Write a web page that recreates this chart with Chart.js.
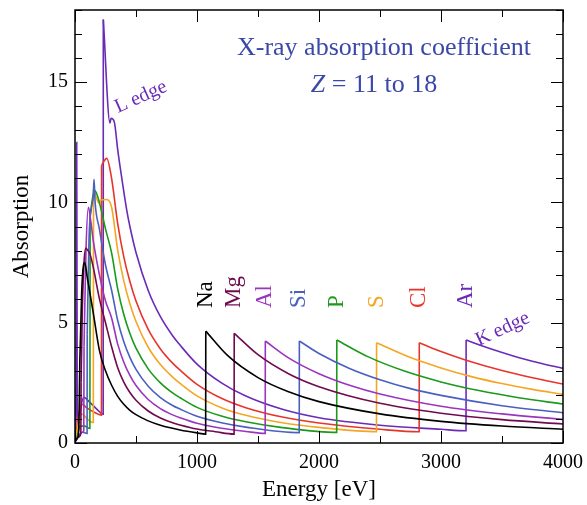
<!DOCTYPE html>
<html>
<head>
<meta charset="utf-8">
<script src="https://cdn.jsdelivr.net/npm/chart.js@4.4.0/dist/chart.umd.min.js"></script>
<style>
    html, body { margin: 0; padding: 0; background: #ffffff; }
</style>
</head>
<body>
<canvas id="absorcion" width="587" height="505"></canvas>
<script>
// energias [eV] y valores de absorcion, Z = 11 a 18
var elementos = ["Na", "Mg", "Al", "Si", "P", "S", "Cl", "Ar"];
var bordeK = [1072, 1305, 1560, 1839, 2146, 2472, 2822, 3206];

var naE = [0, 20, 30, 40, 55, 70, 80, 100, 150, 200, 250, 300, 350, 400, 450, 500, 600, 700, 800, 861, 1000, 1071, 1072, 1250, 1500, 1750, 2000, 2500, 3000, 3500, 4000];
var naV = [0.05, 0.2, 0.5, 3.5, 6.3, 7.4, 7.5, 6.9, 5.4, 3.85, 3.0, 2.4, 1.94, 1.61, 1.36, 1.18, 0.92, 0.74, 0.61, 0.54, 0.42, 0.37, 4.65, 3.64, 2.72, 2.13, 1.72, 1.21, 0.9, 0.705, 0.57];

var mgE = [0, 30, 48, 50, 60, 75, 90, 105, 120, 150, 200, 250, 300, 350, 400, 450, 500, 600, 700, 800, 861, 1000, 1150, 1304, 1305, 1500, 1750, 2000, 2500, 3000, 3500, 4000];
var mgV = [0.1, 0.25, 0.4, 2.5, 5.5, 7.6, 8.1, 8.0, 7.9, 7.3, 6.0, 5.0, 4.0, 3.13, 2.53, 2.1, 1.78, 1.33, 1.04, 0.84, 0.75, 0.58, 0.47, 0.37, 4.56, 3.67, 2.88, 2.34, 1.65, 1.24, 0.97, 0.79];

var alE = [0, 30, 60, 72, 74, 90, 110, 130, 150, 200, 250, 300, 350, 400, 450, 500, 600, 700, 800, 861, 1000, 1200, 1400, 1559, 1560, 1750, 2000, 2250, 2500, 3000, 3500, 4000];
var alV = [0.1, 0.3, 0.45, 0.5, 4.0, 8.0, 9.8, 9.2, 8.4, 7.0, 5.9, 5.2, 4.11, 3.36, 2.81, 2.39, 1.81, 1.43, 1.17, 1.05, 0.82, 0.61, 0.48, 0.4, 4.24, 3.54, 2.88, 2.4, 2.04, 1.53, 1.21, 0.98];

var siE = [0, 30, 60, 99, 100, 115, 135, 150, 156, 165, 200, 250, 300, 350, 400, 450, 500, 600, 700, 800, 861, 1000, 1200, 1400, 1838, 1839, 2000, 2250, 2500, 2750, 3000, 3500, 4000];
var siV = [0.05, 0.3, 0.45, 0.4, 4.5, 8.5, 9.8, 10.3, 10.96, 10.0, 8.9, 7.4, 6.35, 5.09, 4.21, 3.56, 3.06, 2.36, 1.89, 1.56, 1.41, 1.11, 0.84, 0.66, 0.43, 4.24, 3.72, 3.1, 2.63, 2.26, 1.98, 1.55, 1.26];

var pE = [0, 20, 40, 80, 122, 124, 160, 175, 200, 250, 300, 350, 400, 450, 500, 600, 700, 800, 861, 1000, 1200, 1400, 1700, 2145, 2146, 2400, 2700, 3000, 3300, 3650, 4000];
var pV = [0.05, 0.3, 0.7, 0.7, 0.6, 9.5, 10.5, 10.4, 10.0, 8.9, 7.9, 6.41, 5.34, 4.55, 3.94, 3.08, 2.5, 2.08, 1.88, 1.48, 1.12, 0.88, 0.64, 0.44, 4.28, 3.59, 2.99, 2.54, 2.19, 1.87, 1.62];

var sE = [0, 20, 40, 60, 100, 150, 152, 200, 210, 260, 300, 350, 400, 450, 500, 600, 700, 800, 861, 1000, 1200, 1400, 1700, 2000, 2471, 2472, 2750, 3000, 3250, 3500, 3750, 4000];
var sV = [0.1, 0.6, 1.1, 1.2, 1.0, 0.85, 10.54, 9.96, 10.1, 10.12, 9.8, 8.02, 6.74, 5.79, 5.05, 3.98, 3.26, 2.74, 2.48, 1.96, 1.47, 1.15, 0.84, 0.65, 0.47, 4.17, 3.55, 3.12, 2.76, 2.47, 2.23, 2.02];

var clE = [0, 20, 40, 60, 100, 150, 217, 218, 260, 300, 350, 400, 450, 500, 600, 700, 800, 861, 1000, 1200, 1400, 1700, 2000, 2500, 2821, 2822, 3000, 3200, 3500, 3750, 4000];
var clV = [0.1, 0.8, 1.4, 1.6, 1.45, 1.3, 1.16, 11.55, 11.83, 11.0, 9.12, 7.74, 6.71, 5.9, 4.72, 3.91, 3.32, 3.03, 2.44, 1.86, 1.47, 1.08, 0.83, 0.57, 0.47, 4.17, 3.8, 3.45, 3.01, 2.71, 2.45];

var arE = [0, 10, 14, 18, 25, 40, 70, 120, 180, 231, 232, 287, 295, 322, 350, 375, 424, 450, 500, 600, 700, 800, 861, 1000, 1200, 1400, 1700, 2000, 2500, 3000, 3205, 3206, 3400, 3600, 3800, 4000];
var arV = [0.2, 3, 12.5, 2.0, 0.6, 1.2, 1.9, 1.7, 1.4, 1.2, 17.6, 13.3, 13.5, 13.35, 12.2, 11.3, 9.68, 9.0, 7.92, 6.34, 5.25, 4.46, 4.07, 3.28, 2.5, 1.95, 1.4, 1.05, 0.74, 0.57, 0.51, 4.28, 3.93, 3.61, 3.34, 3.1];

var energias = [naE, mgE, alE, siE, pE, sE, clE, arE];
var valores = [naV, mgV, alV, siV, pV, sV, clV, arV];
var colores = ["#000000", "#700a4e", "#9b35c0", "#4a5fc0", "#1a9a1a", "#f5a623", "#e8342a", "#6a2bb8"];

var serif = "'Liberation Serif', 'Times New Roman', serif";
var azul = "#3a48a8";
var violeta = "#6a2bb8";

// cada curva se corta en los bordes (saltos verticales) para que las esquinas queden vivas
var datasets = [];
function tramoNuevo(el, color, pts) {
    return {
        label: el,
        data: pts,
        borderColor: color,
        borderWidth: 1.6,
        pointRadius: 0,
        cubicInterpolationMode: "monotone",
        fill: false
    };
}
elementos.forEach(function (el, i) {
    var pts = energias[i].map(function (e, j) { return { x: e, y: valores[i][j] }; });
    var tramo = [pts[0]];
    for (var j = 1; j < pts.length; j++) {
        tramo.push(pts[j]);
        var salto = pts[j].y - pts[j - 1].y > 2 && pts[j].x - pts[j - 1].x <= 2;
        if (salto) {
            datasets.push(tramoNuevo(el, colores[i], tramo));
            tramo = [pts[j]];
        }
    }
    datasets.push(tramoNuevo(el, colores[i], tramo));
});

// marcas hacia dentro, caja y textos
var decorar = {
    id: "decorar",
    afterDatasetsDraw: function (chart) {
        var ctx = chart.ctx;
        var a = chart.chartArea;
        var x = chart.scales.x;
        var y = chart.scales.y;
        ctx.save();
        ctx.strokeStyle = "#000";
        ctx.lineWidth = 1;
        x.ticks.forEach(function (t) {
            var px = Math.round(x.getPixelForValue(t.value)) + 0.5;
            var l = t.value % 1000 === 0 ? 12 : 7;
            ctx.beginPath();
            ctx.moveTo(px, a.bottom); ctx.lineTo(px, a.bottom - l);
            ctx.moveTo(px, a.top); ctx.lineTo(px, a.top + l);
            ctx.stroke();
        });
        y.ticks.forEach(function (t) {
            var py = Math.round(y.getPixelForValue(t.value)) + 0.5;
            var l = t.value % 5 === 0 ? 12 : 7;
            ctx.beginPath();
            ctx.moveTo(a.left, py); ctx.lineTo(a.left + l, py);
            ctx.moveTo(a.right, py); ctx.lineTo(a.right - l, py);
            ctx.stroke();
        });
        ctx.lineWidth = 1.5;
        ctx.strokeRect(a.left, a.top, a.right - a.left, a.bottom - a.top);

        // titulo
        ctx.fillStyle = azul;
        ctx.textAlign = "center";
        ctx.textBaseline = "alphabetic";
        ctx.font = "26px " + serif;
        ctx.fillText("X-ray absorption coefficient", 384, 55);
        var t1 = "Z", t2 = " = 11 to 18";
        ctx.font = "italic 26px " + serif;
        var w1 = ctx.measureText(t1).width;
        ctx.font = "26px " + serif;
        var w2 = ctx.measureText(t2).width;
        var x0 = 374 - (w1 + w2) / 2;
        ctx.textAlign = "left";
        ctx.font = "italic 26px " + serif;
        ctx.fillText(t1, x0, 92);
        ctx.font = "26px " + serif;
        ctx.fillText(t2, x0 + w1, 92);

        // nombres de los elementos sobre cada borde K
        ctx.font = "23px " + serif;
        elementos.forEach(function (el, i) {
            ctx.save();
            ctx.translate(x.getPixelForValue(bordeK[i]), 308);
            ctx.rotate(-Math.PI / 2);
            ctx.fillStyle = colores[i];
            ctx.textAlign = "left";
            ctx.textBaseline = "middle";
            ctx.fillText(el, 0, 0);
            ctx.restore();
        });

        ctx.font = "20px " + serif;
        ctx.fillStyle = violeta;
        ctx.textAlign = "left";
        ctx.textBaseline = "alphabetic";
        ctx.save();
        ctx.translate(118, 113);
        ctx.rotate(-24 * Math.PI / 180);
        ctx.fillText("L edge", 0, 0);
        ctx.restore();
        ctx.save();
        ctx.translate(479, 346);
        ctx.rotate(-25 * Math.PI / 180);
        ctx.fillText("K edge", 0, 0);
        ctx.restore();
        ctx.restore();
    }
};

var grafico = new Chart(document.getElementById("absorcion"), {
    type: "line",
    data: { datasets: datasets },
    options: {
        responsive: false,
        animation: false,
        layout: { padding: { top: 10, right: 24, left: 0, bottom: 0 } },
        plugins: { legend: { display: false }, tooltip: { enabled: false } },
        scales: {
            x: {
                type: "linear",
                min: 0,
                max: 4000,
                grid: { display: false, drawTicks: false },
                border: { display: false },
                ticks: {
                    stepSize: 500,
                    autoSkip: false,
                    maxRotation: 0,
                    padding: 8,
                    color: "#000",
                    font: { family: serif, size: 20 },
                    callback: function (v) { return v % 1000 === 0 ? v : ""; }
                },
                title: { display: true, text: "Energy [eV]", color: "#000", font: { family: serif, size: 23 }, padding: { top: 0, bottom: 1 } },
                afterFit: function (s) { s.height = 62; s.paddingLeft = 0; s.paddingRight = 0; }
            },
            y: {
                min: 0,
                max: 18,
                grid: { display: false, drawTicks: false },
                border: { display: false },
                ticks: {
                    stepSize: 1,
                    autoSkip: false,
                    padding: 7,
                    color: "#000",
                    font: { family: serif, size: 20 },
                    callback: function (v) { return v % 5 === 0 ? v : ""; }
                },
                title: { display: true, text: "Absorption", color: "#000", font: { family: serif, size: 23 }, padding: { top: 8, bottom: 0 } },
                afterFit: function (s) { s.width = 75; s.paddingTop = 0; s.paddingBottom = 0; }
            }
        }
    },
    plugins: [decorar]
});
</script>
</body>
</html>
